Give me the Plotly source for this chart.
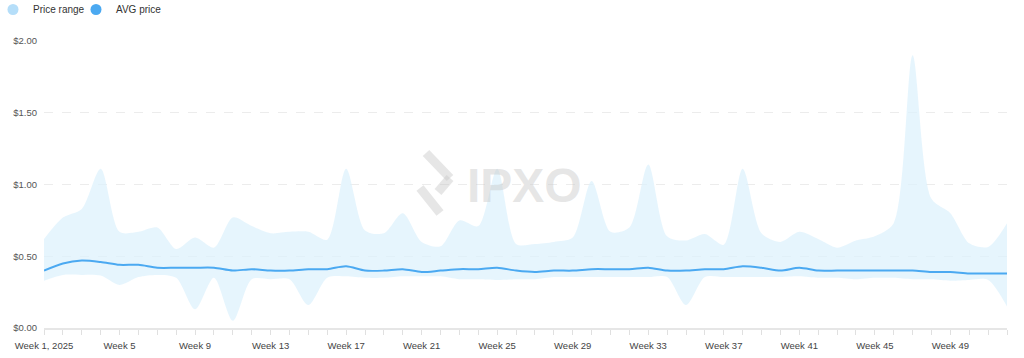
import plotly.graph_objects as go

weeks = ["Week 1, 2025"] + [f"Week {i}" for i in range(2, 53)]

price_high = [0.62, 0.77, 0.83, 1.11, 0.67, 0.67, 0.70, 0.55, 0.63, 0.56, 0.77, 0.71, 0.66, 0.67,
              0.67, 0.615, 1.11, 0.68, 0.66, 0.80, 0.60, 0.57, 0.75, 0.71, 1.11, 0.585, 0.585,
              0.60, 0.63, 1.025, 0.67, 0.70, 1.14, 0.64, 0.61, 0.655, 0.58, 1.11, 0.66, 0.60,
              0.67, 0.62, 0.56, 0.61, 0.64, 0.73, 1.90, 0.90, 0.80, 0.59, 0.565, 0.73]
price_low = [0.33, 0.37, 0.37, 0.365, 0.30, 0.355, 0.37, 0.35, 0.13, 0.35, 0.05, 0.34, 0.34, 0.34,
             0.16, 0.35, 0.36, 0.35, 0.35, 0.36, 0.36, 0.36, 0.34, 0.34, 0.335, 0.34, 0.34,
             0.355, 0.355, 0.355, 0.355, 0.355, 0.355, 0.355, 0.16, 0.355, 0.355, 0.355, 0.355, 0.355,
             0.36, 0.35, 0.35, 0.34, 0.35, 0.35, 0.34, 0.34, 0.33, 0.335, 0.335, 0.15]
avg_price = [0.40, 0.45, 0.47, 0.46, 0.44, 0.44, 0.42, 0.42, 0.42, 0.42, 0.40, 0.41, 0.40, 0.40,
             0.41, 0.41, 0.43, 0.40, 0.40, 0.41, 0.39, 0.40, 0.41, 0.41, 0.42, 0.40, 0.39,
             0.40, 0.40, 0.41, 0.41, 0.41, 0.42, 0.40, 0.40, 0.41, 0.41, 0.43, 0.42, 0.40,
             0.42, 0.40, 0.40, 0.40, 0.40, 0.40, 0.40, 0.39, 0.39, 0.38, 0.38, 0.38]

label_weeks = ["Week 1, 2025", "Week 5", "Week 9", "Week 13", "Week 17", "Week 21", "Week 25",
               "Week 29", "Week 33", "Week 37", "Week 41", "Week 45", "Week 49"]
y_ticks = [0, 0.5, 1.0, 1.5, 2.0]
y_labels = ["$0.00", "$0.50", "$1.00", "$1.50", "$2.00"]

FILL = "rgba(222,241,252,0.75)"
LINE = "#4ba9f1"
LEG_RANGE = "#b5def9"
FONT = "Liberation Sans, Arial, sans-serif"

fig = go.Figure()
fig.add_trace(go.Scatter(x=weeks, y=price_low, mode="lines",
                         line=dict(width=0, shape="spline", smoothing=0.8),
                         showlegend=False, hoverinfo="skip"))
fig.add_trace(go.Scatter(x=weeks, y=price_high, mode="lines", fill="tonexty",
                         fillcolor=FILL, line=dict(width=0, shape="spline", smoothing=0.8),
                         showlegend=False, name="Price range"))
fig.add_trace(go.Scatter(x=weeks, y=avg_price, mode="lines",
                         line=dict(color=LINE, width=2, shape="spline", smoothing=0.8),
                         showlegend=False, name="AVG price"))
# legend entries (circle markers)
fig.add_trace(go.Scatter(x=[None], y=[None], mode="markers", name="Price range",
                         marker=dict(color=LEG_RANGE, size=11, symbol="circle"), legendwidth=38))
fig.add_trace(go.Scatter(x=[None], y=[None], mode="markers", name="AVG price",
                         marker=dict(color=LINE, size=11, symbol="circle"), legendwidth=110))

W, H = 1024, 358
L, R, T, B = 44, 17, 41, 30
PW, PH = W - L - R, H - T - B

def px(xp):
    return (xp - L) / PW

def py(yp):
    return (H - B - yp) / PH

# IPXO watermark
fig.add_annotation(x=px(524), y=py(185), xref="paper", yref="paper", text="<b>IPXO</b>",
                   showarrow=False, font=dict(family=FONT, size=48, color="rgba(200,200,200,0.45)"))
for (x0, y0, x1, y1) in [(426, 153, 450, 178), (450, 178, 438, 192), (420, 188, 440, 213)]:
    fig.add_shape(type="line", xref="paper", yref="paper", x0=px(x0), y0=py(y0), x1=px(x1), y1=py(y1),
                  line=dict(color="rgba(200,200,200,0.45)", width=9))

fig.update_layout(
    width=W, height=H,
    margin=dict(l=L, r=R, t=T, b=B, autoexpand=False),
    plot_bgcolor="white", paper_bgcolor="white",
    font=dict(family=FONT, size=10, color="#444"),
    showlegend=True,
    legend=dict(orientation="h", x=px(-7), y=py(-5), xanchor="left", yanchor="top",
                traceorder="normal",
                font=dict(size=10, color="#333"),
                bgcolor="rgba(0,0,0,0)", itemclick=False),
    xaxis=dict(type="category", range=[0, len(weeks) - 1], showgrid=False,
               tickmode="array", tickvals=weeks,
               ticktext=[w if w in label_weeks else "" for w in weeks],
               ticks="outside", ticklen=5, tickcolor="#e0e0e0", tickwidth=1,
               showline=True, linecolor="#e6e6e6", linewidth=2, ticklabelstandoff=3,
               tickfont=dict(size=9.5, color="#444"), zeroline=False),
    yaxis=dict(range=[0, 2.0], tickmode="array", tickvals=y_ticks, ticktext=y_labels,
               showgrid=True, gridcolor="#ececec", griddash="dash", gridwidth=1,
               zeroline=False, showline=False, ticks="", ticklabelstandoff=6,
               tickfont=dict(size=9.5, color="#555")),
)

# remove the default 8px page margin so the figure fills the window exactly
fig.write_html("out.html", config={"displayModeBar": False},
               post_script="document.body.style.margin='0px';")
